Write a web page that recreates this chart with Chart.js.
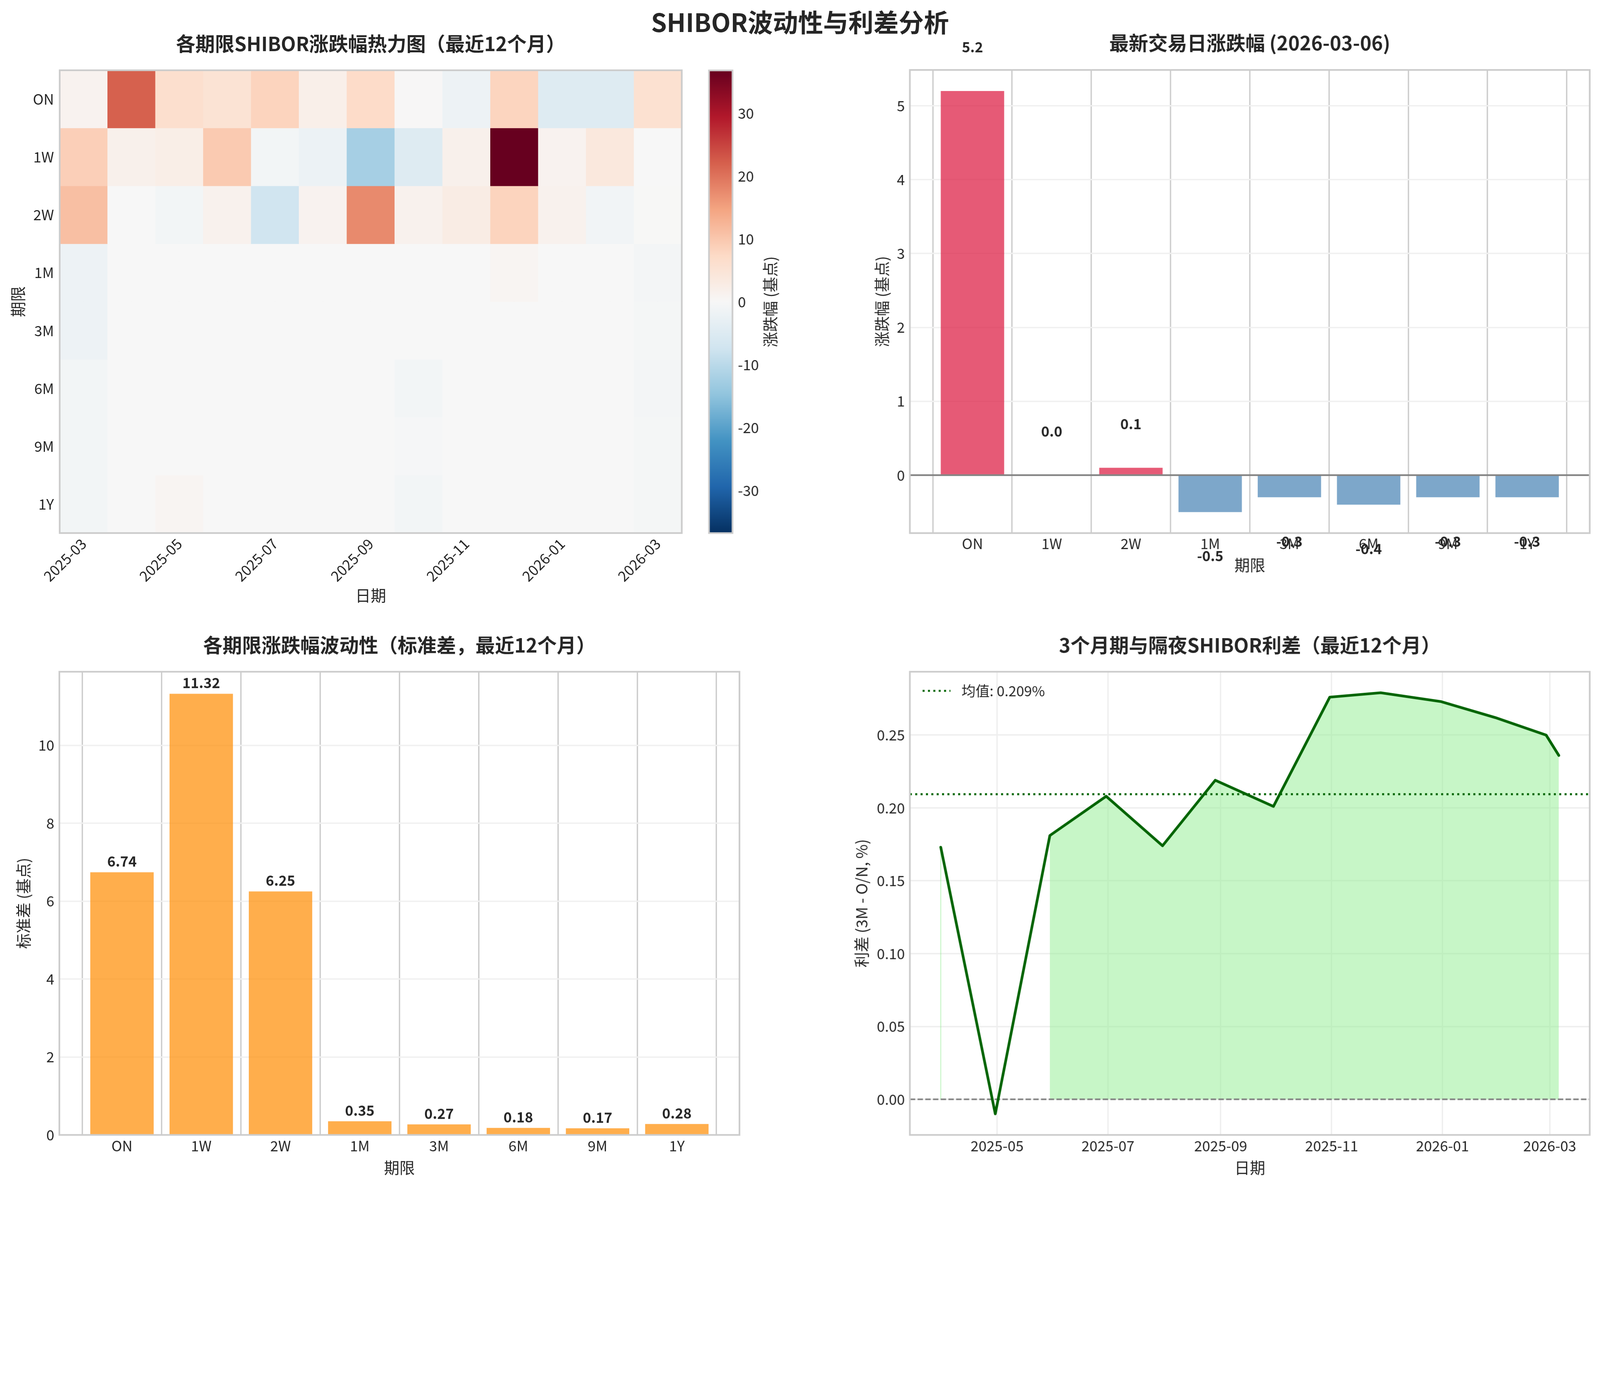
<!DOCTYPE html>
<html>
<head>
<meta charset="utf-8">
<title>SHIBOR波动性与利差分析</title>
<script src="https://cdn.jsdelivr.net/npm/chart.js@4.4.1/dist/chart.umd.min.js"></script>
<style>
  html, body { margin: 0; padding: 0; background: #ffffff; overflow: hidden; }
  #wrap { position: relative; overflow: hidden; }
  #page { position: absolute; left: 0; top: 0; width: 4771px; height: 3539px; transform-origin: 0 0; background: #ffffff; }
  canvas { position: absolute; }
  #suptitle {
    position: absolute; left: 0; top: 25px; width: 4771px; z-index: 5;
    text-align: center; font: bold 75px/75px "Noto Sans CJK SC", sans-serif; color: #262626;
  }
</style>
</head>
<body>
<div id="wrap">
<div id="page">
<div id="suptitle">SHIBOR波动性与利差分析</div>
<canvas id="heat" width="2211" height="1830" style="left:0px;top:0px"></canvas>
<canvas id="cbar" width="330" height="1830" style="left:2060px;top:0px"></canvas>
<canvas id="latest" width="2613" height="1830" style="left:2420px;top:0px"></canvas>
<canvas id="vol" width="2382" height="1709" style="left:0px;top:1830px"></canvas>
<canvas id="spread" width="2613" height="1709" style="left:2420px;top:1830px"></canvas>
</div>
</div>
<script>
// ---- data ----
const months = ["2025-03", "2025-04", "2025-05", "2025-06", "2025-07", "2025-08", "2025-09",
  "2025-10", "2025-11", "2025-12", "2026-01", "2026-02", "2026-03"];
const tenors = ["ON", "1W", "2W", "1M", "3M", "6M", "9M", "1Y"];

// monthly change per tenor (bp), one array per heatmap row
const chgON = [1.3, 22.0, 6.3, 5.3, 8.3, 2.1, 7.0, 0.2, -2.0, 8.2, -4.9, -4.9, 5.8];
const chg1W = [9.0, 1.8, 2.4, 9.7, -0.9, -2.2, -12.4, -4.8, 1.8, 36.8, 1.3, 4.0, 0.0];
const chg2W = [11.2, 0.0, -0.9, 1.5, -7.4, 1.3, 17.6, 1.5, 2.9, 8.3, 1.5, -1.2, 0.1];
const chg1M = [-2.0, 0, 0, 0, 0, 0, 0, 0, 0, 0.8, 0, 0, -0.8];
const chg3M = [-2.0, 0, 0, 0, 0, 0, 0, 0, 0, 0, 0, 0, -0.6];
const chg6M = [-1.0, 0, 0, 0, 0, 0, 0, -1.0, 0, 0, 0, 0, -0.7];
const chg9M = [-1.0, 0, 0, 0, 0, 0, 0, -0.4, 0, 0, 0, 0, -0.6];
const chg1Y = [-1.0, 0, 0.8, 0, 0, 0, 0, -1.0, 0, 0, 0, 0, -0.6];

const latestDate = "2026-03-06";
const latestChg = [5.2, 0.0, 0.1, -0.5, -0.3, -0.4, -0.3, -0.3];

const volStd = [6.74, 11.32, 6.25, 0.35, 0.27, 0.18, 0.17, 0.28];

const spreadDates = ["2025-03-31", "2025-04-30", "2025-05-30", "2025-06-30", "2025-07-31", "2025-08-29",
  "2025-09-30", "2025-10-31", "2025-11-28", "2025-12-31", "2026-01-30", "2026-02-27", "2026-03-06"];
const spreadVals = [0.173, -0.010, 0.181, 0.208, 0.174, 0.219, 0.201, 0.276, 0.279, 0.273, 0.262, 0.250, 0.236];
const spreadTicks = ["2025-05", "2025-07", "2025-09", "2025-11", "2026-01", "2026-03"];

// ---- fit the 4771x3539 page into whatever viewport we get ----
const pageScale = window.innerWidth / 4771;
const wrap = document.getElementById("wrap");
wrap.style.width = `${4771 * pageScale}px`;
wrap.style.height = `${3539 * pageScale}px`;
document.body.style.height = `${3539 * pageScale}px`;
document.getElementById("page").style.transform = `scale(${pageScale})`;
const pixelRatio = pageScale * (window.devicePixelRatio || 1);

// ---- shared look ----
const FONT = '"Noto Sans CJK SC", "Noto Sans", sans-serif';
const TEXT = "#262626";
Chart.defaults.font.family = FONT;
Chart.defaults.font.size = 43;
Chart.defaults.color = TEXT;

const heatRows = [chgON, chg1W, chg2W, chg1M, chg3M, chg6M, chg9M, chg1Y];
const vmax = Math.max(...heatRows.flat().map(Math.abs));

// RdBu_r colormap
const RDBU_R = [[5, 48, 97], [33, 102, 172], [67, 147, 195], [146, 197, 222], [209, 229, 240],
  [247, 247, 247], [253, 219, 199], [244, 165, 130], [214, 96, 77], [178, 24, 43], [103, 0, 31]];
function cmap(v) {
  const t = Math.min(1, Math.max(0, (v + vmax) / (2 * vmax))) * 10;
  const i = Math.min(9, Math.floor(t));
  const f = t - i;
  const c = RDBU_R[i].map((a, k) => Math.round(a + (RDBU_R[i + 1][k] - a) * f));
  return `rgb(${c[0]}, ${c[1]}, ${c[2]})`;
}

// matplotlib-like 5% autoscale margin
function padRange(lo, hi) {
  const m = (hi - lo) * 0.05;
  return [lo - m, hi + m];
}

// axes frame (all four spines)
const frame = {
  id: "frame",
  afterDraw(chart) {
    const { ctx, chartArea: a } = chart;
    ctx.save();
    ctx.strokeStyle = "#cccccc";
    ctx.lineWidth = 5;
    ctx.strokeRect(a.left, a.top, a.right - a.left, a.bottom - a.top);
    ctx.restore();
  },
};

// title centred over the plot area, like matplotlib's ax.set_title
function titleOpts(text, top, bottom) {
  return {
    display: true, text, color: TEXT,
    fullSize: false,
    font: { size: 58, weight: "bold" },
    padding: { top, bottom },
  };
}

function axisTitle(text, pad, side) {
  return {
    display: true, text, color: TEXT,
    font: { size: 46 },
    padding: side === "x" ? { top: 0, bottom: pad } : { top: pad, bottom: 0 },
  };
}

const baseOpts = {
  responsive: false,
  animation: false,
  devicePixelRatio: pixelRatio,
};

// ---- heatmap of monthly changes ----
new Chart(document.getElementById("heat"), {
  type: "bar",
  data: {
    labels: months,
    datasets: heatRows.map((row, r) => ({
      label: tenors[r],
      data: row.map(() => [r, r + 1]),
      backgroundColor: row.map((v) => cmap(v)),
      borderWidth: 0,
      grouped: false,
      barPercentage: 1,
      categoryPercentage: 1,
    })),
  },
  options: {
    ...baseOpts,
    layout: { padding: { left: 0, right: 178, top: 0, bottom: 0 } },
    plugins: {
      legend: { display: false },
      tooltip: { enabled: false },
      title: titleOpts("各期限SHIBOR涨跌幅热力图（最近12个月）", 96, 44),
    },
    scales: {
      x: {
        z: 1,
        offset: true,
        grid: { offset: false, color: "#cccccc", lineWidth: 4, drawTicks: false },
        border: { display: false },
        ticks: {
          autoSkip: false, minRotation: 45, maxRotation: 45, padding: 6,
          callback: (v, i) => (i % 2 ? "" : months[i]),
        },
        title: axisTitle("日期", 26, "x"),
        afterFit: (s) => { s.height = 240; },
      },
      y: {
        type: "linear",
        reverse: true,
        min: 0,
        max: tenors.length,
        z: 1,
        grid: { color: "#cccccc", lineWidth: 4, drawTicks: false },
        border: { display: false },
        afterBuildTicks: (s) => { s.ticks = tenors.map((t, i) => ({ value: i + 0.5 })); },
        ticks: { autoSkip: false, padding: 17, callback: (v, i) => tenors[i] },
        title: axisTitle("期限", 26, "y"),
        afterFit: (s) => { s.width = 178; },
      },
    },
  },
  plugins: [frame],
});

// ---- colorbar ----
const cbarLabel = {
  id: "cbarLabel",
  afterDraw(chart) {
    const { ctx, chartArea: a } = chart;
    ctx.save();
    ctx.translate(a.right + 112, (a.top + a.bottom) / 2);
    ctx.rotate(-Math.PI / 2);
    ctx.font = `46px ${FONT}`;
    ctx.fillStyle = TEXT;
    ctx.textAlign = "center";
    ctx.textBaseline = "middle";
    ctx.fillText("涨跌幅 (基点)", 0, 0);
    ctx.restore();
  },
};

new Chart(document.getElementById("cbar"), {
  type: "bar",
  data: {
    labels: [""],
    datasets: [{
      data: [[-vmax, vmax]],
      barPercentage: 1,
      categoryPercentage: 1,
      borderWidth: 0,
      backgroundColor: (c) => {
        const a = c.chart.chartArea;
        if (!a) return "#f7f7f7";
        const g = c.chart.ctx.createLinearGradient(0, a.bottom, 0, a.top);
        RDBU_R.forEach((col, i) => g.addColorStop(i / 10, `rgb(${col.join(",")})`));
        return g;
      },
    }],
  },
  options: {
    ...baseOpts,
    layout: { padding: { left: 54, right: 0, top: 210, bottom: 240 } },
    plugins: { legend: { display: false }, tooltip: { enabled: false } },
    scales: {
      x: { display: false },
      y: {
        position: "right",
        min: -vmax,
        max: vmax,
        grid: { display: false, drawTicks: false },
        border: { display: false },
        afterBuildTicks: (s) => {
          s.ticks = [-30, -20, -10, 0, 10, 20, 30].map((v) => ({ value: v }));
        },
        ticks: { padding: 16 },
        afterFit: (s) => { s.width = 206; },
      },
    },
  },
  plugins: [frame, cbarLabel],
});

// ---- latest day change ----
const barPad = 0.4 + 0.05 * (tenors.length - 1 + 0.8);
const [latestMin, latestMax] = padRange(Math.min(0, ...latestChg), Math.max(0, ...latestChg));

const latestLabels = {
  id: "latestLabels",
  afterDatasetsDraw(chart) {
    const { ctx } = chart;
    const y = chart.scales.y;
    const meta = chart.getDatasetMeta(1);
    ctx.save();
    ctx.font = `bold 42px ${FONT}`;
    ctx.fillStyle = TEXT;
    ctx.textAlign = "center";
    meta.data.forEach((bar, i) => {
      const v = latestChg[i];
      ctx.textBaseline = v >= 0 ? "bottom" : "top";
      ctx.fillText(v.toFixed(1), bar.x, y.getPixelForValue(v >= 0 ? v + 0.5 : v - 0.5));
    });
    ctx.restore();
  },
};

new Chart(document.getElementById("latest"), {
  type: "bar",
  data: {
    datasets: [
      {
        type: "line",
        data: [{ x: -barPad, y: 0 }, { x: tenors.length - 1 + barPad, y: 0 }],
        borderColor: "#808080",
        borderWidth: 5,
        pointRadius: 0,
      },
      {
        type: "bar",
        data: latestChg.map((v, i) => ({ x: i, y: v })),
        backgroundColor: latestChg.map((v) => (v >= 0 ? "rgba(220, 20, 60, 0.7)" : "rgba(70, 130, 180, 0.7)")),
        borderWidth: 0,
        barPercentage: 0.8,
        categoryPercentage: 1,
      },
    ],
  },
  options: {
    ...baseOpts,
    layout: { padding: { left: 0, right: 293, top: 0, bottom: 0 } },
    plugins: {
      legend: { display: false },
      tooltip: { enabled: false },
      title: titleOpts(`最新交易日涨跌幅 (${latestDate})`, 93, 46),
    },
    scales: {
      x: {
        type: "linear",
        offset: false,
        min: -barPad,
        max: tenors.length - 1 + barPad,
        grid: { color: "#cccccc", lineWidth: 4, drawTicks: false },
        border: { display: false },
        afterBuildTicks: (s) => { s.ticks = tenors.map((t, i) => ({ value: i })); },
        ticks: { autoSkip: false, maxRotation: 0, padding: 6, callback: (v, i) => tenors[i] },
        title: axisTitle("期限", 117, "x"),
        afterFit: (s) => { s.height = 240; },
      },
      y: {
        min: latestMin,
        max: latestMax,
        grid: { color: "#f0f0f0", lineWidth: 4, drawTicks: false },
        border: { display: false },
        afterBuildTicks: (s) => {
          const t = [];
          for (let v = Math.ceil(latestMin); v <= Math.floor(latestMax); v++) t.push({ value: v });
          s.ticks = t;
        },
        ticks: { padding: 15 },
        title: axisTitle("涨跌幅 (基点)", 182, "y"),
        afterFit: (s) => { s.width = 293; },
      },
    },
  },
  plugins: [frame, latestLabels],
});

// ---- volatility (std dev) ----
const volMax = Math.max(...volStd) * 1.05;

const volLabels = {
  id: "volLabels",
  afterDatasetsDraw(chart) {
    const { ctx } = chart;
    const y = chart.scales.y;
    const meta = chart.getDatasetMeta(0);
    ctx.save();
    ctx.font = `bold 42px ${FONT}`;
    ctx.fillStyle = TEXT;
    ctx.textAlign = "center";
    ctx.textBaseline = "bottom";
    meta.data.forEach((bar, i) => {
      ctx.fillText(volStd[i].toFixed(2), bar.x, y.getPixelForValue(volStd[i] + 0.1));
    });
    ctx.restore();
  },
};

new Chart(document.getElementById("vol"), {
  type: "bar",
  data: {
    datasets: [{
      data: volStd.map((v, i) => ({ x: i, y: v })),
      backgroundColor: "rgba(255, 140, 0, 0.7)",
      borderWidth: 0,
      barPercentage: 0.8,
      categoryPercentage: 1,
    }],
  },
  options: {
    ...baseOpts,
    layout: { padding: { left: 0, right: 177, top: 0, bottom: 0 } },
    plugins: {
      legend: { display: false },
      tooltip: { enabled: false },
      title: titleOpts("各期限涨跌幅波动性（标准差，最近12个月）", 60, 44),
    },
    scales: {
      x: {
        type: "linear",
        offset: false,
        min: -barPad,
        max: tenors.length - 1 + barPad,
        grid: { color: "#cccccc", lineWidth: 4, drawTicks: false },
        border: { display: false },
        afterBuildTicks: (s) => { s.ticks = tenors.map((t, i) => ({ value: i })); },
        ticks: { autoSkip: false, maxRotation: 0, padding: 7, callback: (v, i) => tenors[i] },
        title: axisTitle("期限", 29, "x"),
        afterFit: (s) => { s.height = 154; },
      },
      y: {
        min: 0,
        max: volMax,
        grid: { color: "#f0f0f0", lineWidth: 4, drawTicks: false },
        border: { display: false },
        afterBuildTicks: (s) => {
          const t = [];
          for (let v = 0; v <= volMax; v += 2) t.push({ value: v });
          s.ticks = t;
        },
        ticks: { padding: 15 },
        title: axisTitle("标准差 (基点)", 42, "y"),
        afterFit: (s) => { s.width = 177; },
      },
    },
  },
  plugins: [frame, volLabels],
});

// ---- 3M - O/N spread ----
const spreadX = spreadDates.map((d) => Date.parse(d));
const spreadMean = spreadVals.reduce((a, b) => a + b, 0) / spreadVals.length;
const [xMin, xMax] = padRange(spreadX[0], spreadX[spreadX.length - 1]);
const [sMin, sMax] = padRange(Math.min(0, ...spreadVals), Math.max(...spreadVals));

// legend box inside the plot, upper left (only the mean line is listed)
const meanLegend = {
  id: "meanLegend",
  afterDraw(chart) {
    const { ctx, chartArea: a } = chart;
    const ds = chart.data.datasets[1];
    const y = a.top + 57;
    ctx.save();
    ctx.strokeStyle = ds.borderColor;
    ctx.lineWidth = ds.borderWidth;
    ctx.setLineDash(ds.borderDash);
    ctx.beginPath();
    ctx.moveTo(a.left + 38, y);
    ctx.lineTo(a.left + 121, y);
    ctx.stroke();
    ctx.setLineDash([]);
    ctx.font = `42px ${FONT}`;
    ctx.fillStyle = TEXT;
    ctx.textBaseline = "middle";
    ctx.fillText(ds.label, a.left + 154, y);
    ctx.restore();
  },
};

new Chart(document.getElementById("spread"), {
  type: "line",
  data: {
    datasets: [
      {
        label: "3M - O/N",
        data: spreadVals.map((v, i) => ({ x: spreadX[i], y: v })),
        borderColor: "#006400",
        borderWidth: 8,
        borderJoinStyle: "round",
        borderCapStyle: "round",
        pointRadius: 0,
        tension: 0,
      },
      {
        label: `均值: ${spreadMean.toFixed(3)}%`,
        data: [{ x: xMin, y: spreadMean }, { x: xMax, y: spreadMean }],
        borderColor: "#006400",
        borderWidth: 6,
        borderDash: [6, 10],
        pointRadius: 0,
      },
      {
        label: "",
        data: [{ x: xMin, y: 0 }, { x: xMax, y: 0 }],
        borderColor: "#808080",
        borderWidth: 4.5,
        borderDash: [16, 7],
        pointRadius: 0,
      },
      {
        // first positive point stands alone, so its fill collapses to a sliver
        label: "",
        data: [{ x: spreadX[0], y: 0 }, { x: spreadX[0], y: spreadVals[0] }],
        borderColor: "rgba(144, 238, 144, 0.5)",
        borderWidth: 3,
        pointRadius: 0,
      },
      {
        label: "",
        data: spreadVals.map((v, i) => ({ x: spreadX[i], y: v > 0 ? v : null })),
        borderColor: "rgba(0, 0, 0, 0)",
        borderWidth: 0,
        backgroundColor: "rgba(144, 238, 144, 0.5)",
        fill: "origin",
        spanGaps: false,
        pointRadius: 0,
      },
    ],
  },
  options: {
    ...baseOpts,
    layout: { padding: { left: 0, right: 293, top: 0, bottom: 0 } },
    plugins: {
      tooltip: { enabled: false },
      legend: { display: false },
      title: titleOpts("3个月期与隔夜SHIBOR利差（最近12个月）", 60, 44),
    },
    scales: {
      x: {
        type: "linear",
        min: xMin,
        max: xMax,
        grid: { color: "#eeeeee", lineWidth: 4, drawTicks: false },
        border: { display: false },
        afterBuildTicks: (s) => { s.ticks = spreadTicks.map((m) => ({ value: Date.parse(m + "-01") })); },
        ticks: { autoSkip: false, maxRotation: 0, padding: 7, callback: (v) => new Date(v).toISOString().slice(0, 7) },
        title: axisTitle("日期", 29, "x"),
        afterFit: (s) => { s.height = 154; },
      },
      y: {
        min: sMin,
        max: sMax,
        grid: { color: "#eeeeee", lineWidth: 4, drawTicks: false },
        border: { display: false },
        afterBuildTicks: (s) => {
          const t = [];
          for (let k = 0; k * 0.05 <= sMax; k++) t.push({ value: k * 0.05 });
          s.ticks = t;
        },
        ticks: { padding: 15, callback: (v) => v.toFixed(2) },
        title: axisTitle("利差 (3M - O/N, %)", 122, "y"),
        afterFit: (s) => { s.width = 293; },
      },
    },
  },
  plugins: [frame, meanLegend],
});
</script>
</body>
</html>
